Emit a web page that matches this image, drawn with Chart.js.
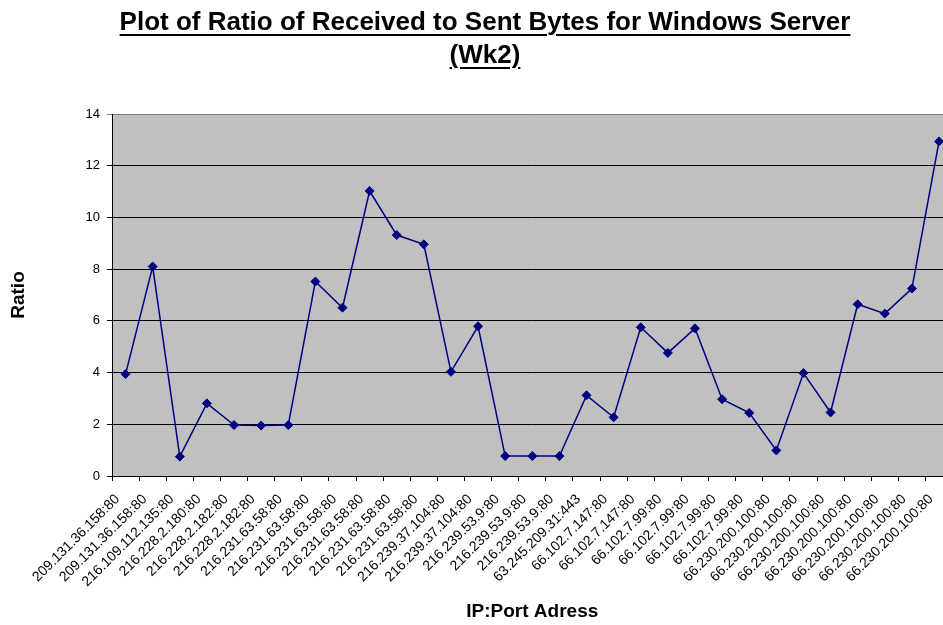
<!DOCTYPE html>
<html>
<head>
<meta charset="utf-8">
<script src="https://cdn.jsdelivr.net/npm/chart.js@4/dist/chart.umd.min.js"></script>
<style>
  html, body { margin: 0; padding: 0; background: #fff; overflow: hidden; }
  #wrap { position: relative; width: 943px; height: 625px; overflow: hidden; }
  #title {
    position: absolute; left: 85px; top: 5px; width: 800px;
    text-align: center;
    font: bold 26px "Liberation Sans", Arial, sans-serif;
    line-height: 33px;
    text-decoration: underline;
    text-decoration-thickness: 2px;
    text-underline-offset: 4px;
    color: #000;
  }
  /* plot area runs a little past the right edge */
  #chart { position: absolute; left: 0; top: 0; }
</style>
</head>
<body>
<div id="wrap">
  <canvas id="chart" width="961" height="625"></canvas>
  <div id="title">Plot of Ratio of Received to Sent Bytes for Windows Server<br>(Wk2)</div>
</div>
<script>
// Received/sent byte ratio per remote endpoint
const endpoints = [
    '209.131.36.158:80', '209.131.36.158:80', '216.109.112.135:80', '216.228.2.180:80',
    '216.228.2.182:80', '216.228.2.182:80', '216.231.63.58:80', '216.231.63.58:80',
    '216.231.63.58:80', '216.231.63.58:80', '216.231.63.58:80', '216.231.63.58:80',
    '216.239.37.104:80', '216.239.37.104:80', '216.239.53.9:80', '216.239.53.9:80',
    '216.239.53.9:80', '63.245.209.31:443', '66.102.7.147:80', '66.102.7.147:80',
    '66.102.7.99:80', '66.102.7.99:80', '66.102.7.99:80', '66.102.7.99:80',
    '66.230.200.100:80', '66.230.200.100:80', '66.230.200.100:80', '66.230.200.100:80',
    '66.230.200.100:80', '66.230.200.100:80', '66.230.200.100:80'
];

const ratios = [
    3.94, 8.10, 0.75, 2.81, 1.97, 1.95, 1.97, 7.52, 6.51, 11.02, 9.32,
    8.96, 4.03, 5.79, 0.77, 0.77, 0.77, 3.12, 2.27, 5.75, 4.76,
    5.71, 2.97, 2.44, 0.99, 3.98, 2.46, 6.64, 6.28, 7.25, 12.94
];

const yTicks = [0, 2, 4, 6, 8, 10, 12, 14];

const FONT = '"Liberation Sans", Arial, sans-serif';

// grey plot area like the old spreadsheet charts
const plotBackground = {
    id: 'plotBackground',
    beforeDraw(chart) {
        const { ctx, chartArea: a } = chart;
        ctx.save();
        ctx.fillStyle = '#c0c0c0';
        ctx.fillRect(a.left, a.top, a.right - a.left, a.bottom - a.top);
        ctx.restore();
    }
};

new Chart(document.getElementById('chart'), {
    type: 'line',
    data: {
        labels: endpoints,
        datasets: [{
            data: ratios,
            borderColor: '#000080',
            backgroundColor: '#000080',
            borderWidth: 1.5,
            pointStyle: 'rectRot',
            pointRadius: 4.5,
            pointBorderWidth: 1,
            tension: 0,
            clip: false
        }]
    },
    options: {
        responsive: false,
        animation: false,
        layout: { padding: { top: 114, right: 0, bottom: 0, left: 0 } },
        plugins: {
            legend: { display: false },
            tooltip: { enabled: false }
        },
        scales: {
            x: {
                offset: true,
                afterFit(scale) { scale.height = 149; },
                grid: {
                    offset: true,
                    drawOnChartArea: false,
                    tickLength: 5,
                    color: '#000'
                },
                border: { color: '#000', width: 1 },
                ticks: {
                    autoSkip: false,
                    maxRotation: 45,
                    minRotation: 45,
                    padding: 10,
                    labelOffset: -8,
                    color: '#000',
                    font: { family: FONT, size: 14 }
                },
                title: {
                    display: true,
                    text: 'IP:Port Adress',
                    color: '#000',
                    font: { family: FONT, size: 19, weight: 'bold' },
                    padding: { top: 0, bottom: 2 }
                }
            },
            y: {
                min: 0,
                max: 14,
                afterFit(scale) { scale.width = 112; },
                afterBuildTicks(scale) { scale.ticks = yTicks.map(v => ({ value: v })); },
                grid: {
                    tickLength: 5,
                    color: ctx => (ctx.tick && ctx.tick.value === 14) ? '#808080' : '#000'
                },
                border: { color: '#000', width: 1 },
                ticks: {
                    padding: 7,
                    color: '#000',
                    font: { family: FONT, size: 13 }
                },
                title: {
                    display: true,
                    text: 'Ratio',
                    color: '#000',
                    font: { family: FONT, size: 19, weight: 'bold' },
                    padding: { top: 7, bottom: 0 }
                }
            }
        }
    },
    plugins: [plotBackground]
});
</script>
</body>
</html>
